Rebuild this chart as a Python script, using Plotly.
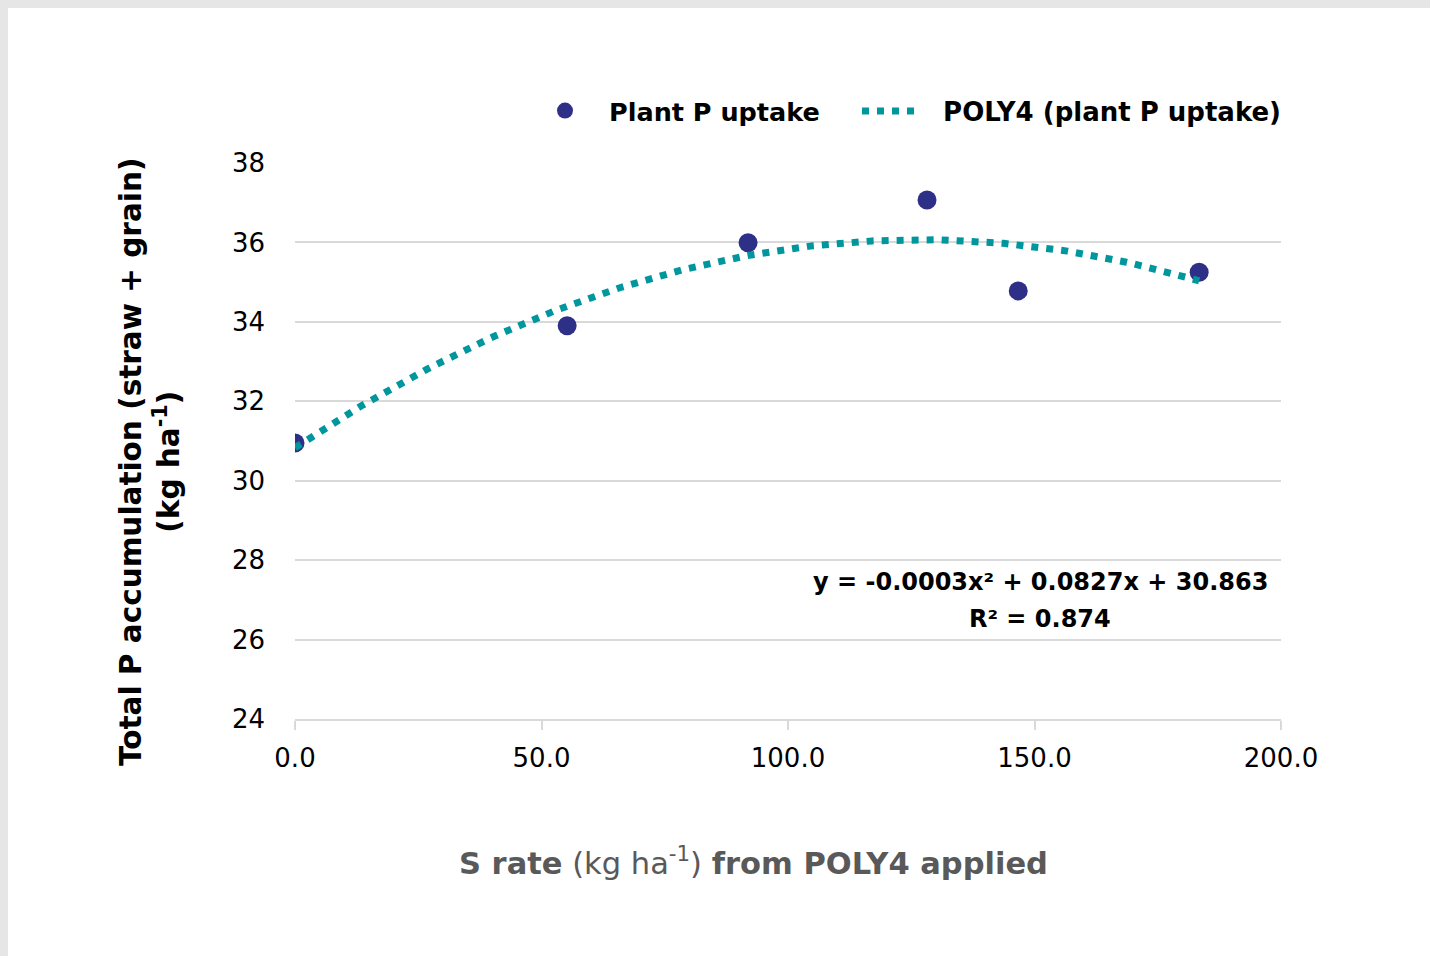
import numpy as np
import plotly.graph_objects as go

# Data
s_rate = [0.0, 55.2, 91.9, 128.2, 146.7, 183.4]
p_uptake = [30.95, 33.9, 35.99, 37.07, 34.78, 35.25]

x_ticks = [0, 50, 100, 150, 200]
x_tick_labels = ["0.0", "50.0", "100.0", "150.0", "200.0"]
y_ticks = [24, 26, 28, 30, 32, 34, 36, 38]

eq_lines = ["y = -0.0003x² + 0.0827x + 30.863", "R² = 0.874"]

# Polynomial (order 2) trendline fitted to the data, as the spreadsheet does
coef = np.polyfit(s_rate, p_uptake, 2)
x_fit = np.linspace(min(s_rate), max(s_rate), 200)
y_fit = np.polyval(coef, x_fit)

FONT = "DejaVu Sans"
NAVY = "#2E3088"
TEAL = "#00969E"

fig = go.Figure()
fig.add_trace(go.Scatter(
    x=s_rate, y=p_uptake, mode="markers", name="Plant P uptake",
    marker=dict(color=NAVY, size=19), legend="legend",
))
fig.add_trace(go.Scatter(
    x=x_fit, y=y_fit, mode="lines", name="\u00a0\u00a0POLY4 (plant P uptake)",
    line=dict(color=TEAL, width=7, dash="7px,8px"), legend="legend2",
))

W, H = 1430, 956
ml, mr, mt, mb = 295, 149, 163, 237
pw, ph = W - ml - mr, H - mt - mb

def px2x(px):
    return (px - ml) / pw

def py2y(py):
    return (H - mb - py) / ph

fig.update_layout(
    width=W, height=H,
    margin=dict(l=ml, r=mr, t=mt, b=mb, pad=0),
    paper_bgcolor="#e6e6e6",
    plot_bgcolor="white",
    font=dict(family=FONT, color="black", size=26),
    showlegend=True,
    legend=dict(
        orientation="h", x=px2x(521), xanchor="left", y=py2y(111), yanchor="middle",
        font=dict(family=FONT, size=25.5, color="black", weight="bold"),
        bgcolor="rgba(0,0,0,0)", itemwidth=78,
    ),
    legend2=dict(
        orientation="h", x=px2x(857), xanchor="left", y=py2y(111), yanchor="middle",
        font=dict(family=FONT, size=26, color="black", weight="bold"),
        bgcolor="rgba(0,0,0,0)", itemwidth=58,
    ),
    xaxis=dict(
        range=[0, 200], tickvals=x_ticks, ticktext=x_tick_labels,
        showgrid=False, zeroline=False,
        showline=True, linecolor="#d9d9d9", linewidth=2,
        ticks="outside", ticklen=9, tickwidth=2, tickcolor="#d9d9d9",
        ticklabelstandoff=6,
        tickfont=dict(family=FONT, size=26, color="black"),
    ),
    yaxis=dict(
        range=[24, 38], tickvals=y_ticks,
        showgrid=True, gridcolor="#d9d9d9", gridwidth=2,
        zeroline=False, showline=False, ticks="",
        ticklabelstandoff=29,
        tickfont=dict(family=FONT, size=26, color="black"),
    ),
    shapes=[dict(
        type="rect", xref="paper", yref="paper", layer="below",
        x0=px2x(8), x1=px2x(1440), y0=py2y(966), y1=py2y(8),
        fillcolor="white", line=dict(width=0),
    )],
    annotations=[
        dict(
            text="<b>Total P accumulation (straw + grain)<br>(kg ha<sup>-1</sup>)</b>",
            xref="paper", yref="paper", x=px2x(150), y=py2y(462),
            xanchor="center", yanchor="middle", textangle=-90, showarrow=False,
            font=dict(family=FONT, size=29.5, color="black"),
        ),
        dict(
            text="<b>S rate</b> (kg ha<sup>-1</sup>) <b>from POLY4 applied</b>",
            xref="paper", yref="paper", x=px2x(753), y=py2y(861),
            xanchor="center", yanchor="middle", showarrow=False,
            font=dict(family=FONT, size=30.5, color="#595959"),
        ),
        dict(
            text="<b>" + eq_lines[0] + "</b>",
            xref="paper", yref="paper", x=px2x(1040), y=py2y(582),
            xanchor="center", yanchor="middle", showarrow=False,
            font=dict(family=FONT, size=24, color="black"),
        ),
        dict(
            text="<b>" + eq_lines[1] + "</b>",
            xref="paper", yref="paper", x=px2x(1040), y=py2y(619),
            xanchor="center", yanchor="middle", showarrow=False,
            font=dict(family=FONT, size=24, color="black"),
        ),
    ],
)

fig.write_html(
    "out.html",
    config={"displayModeBar": False},
    post_script="document.body.style.margin='0';",
)
